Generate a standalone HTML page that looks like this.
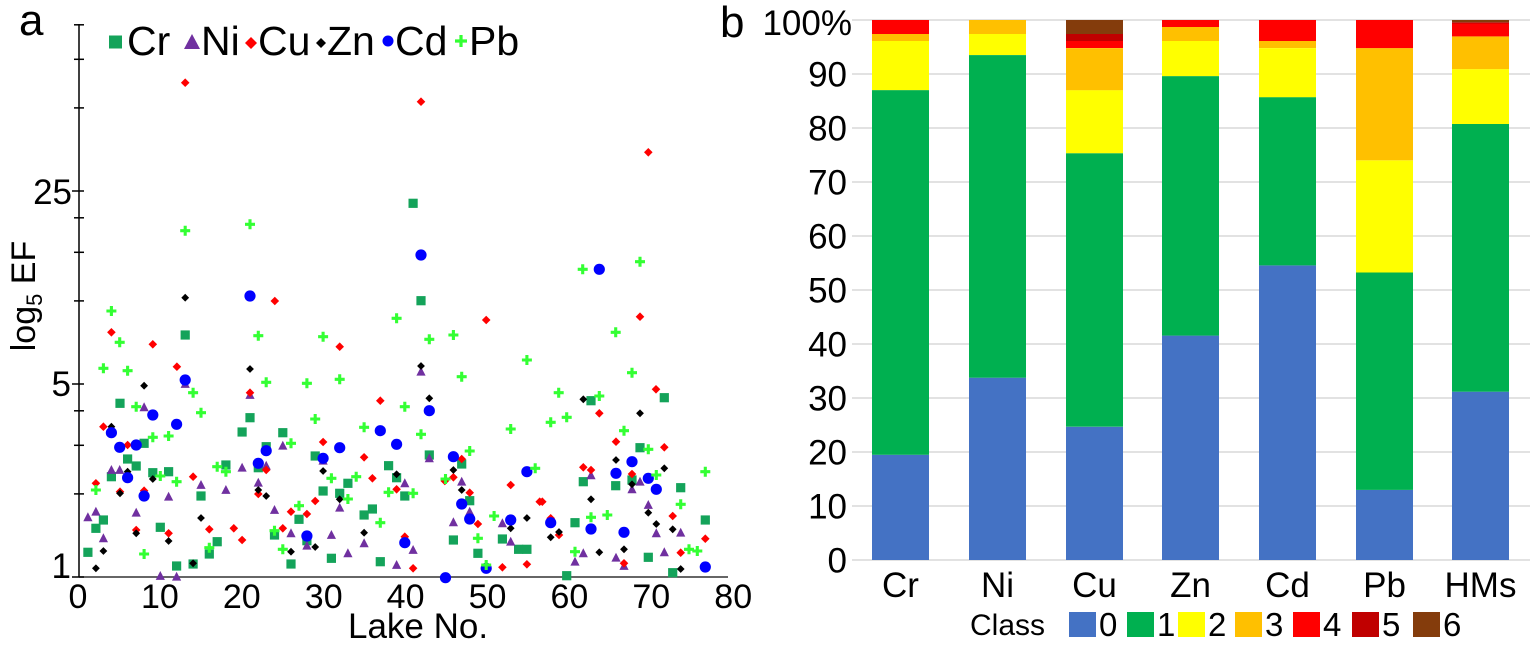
<!DOCTYPE html>
<html><head><meta charset="utf-8">
<style>
html,body{margin:0;padding:0;background:#fff;}
svg{display:block;font-family:"Liberation Sans",Arial,sans-serif;}
</style></head><body>
<svg id="s" width="1534" height="647" viewBox="0 0 1534 647" xmlns="http://www.w3.org/2000/svg">
<rect width="1534" height="647" fill="#fff"/>
<!-- Panel a -->
<text x="19" y="35" font-size="44" fill="#000">a</text>
<g id="axA" stroke="#000" stroke-width="1.5"></g>
<text transform="translate(35,296) rotate(-90)" text-anchor="middle" font-size="34" fill="#000">log<tspan font-size="22" dy="7">5</tspan><tspan dy="-7"> EF</tspan></text>
<g font-size="35" fill="#000" text-anchor="end">
<text x="72" y="204">25</text>
<text x="71" y="396">5</text>
<text x="71" y="578">1</text>
</g>
<g id="xlab" font-size="34" fill="#000" text-anchor="middle"></g>
<text x="348" y="638" font-size="35" fill="#000">Lake No.</text>
<g id="pts"></g>
<!-- legend a -->
<rect x="109" y="35.5" width="13" height="13" fill="#14A35A"/>
<polygon points="192,34 184,49 200,49" fill="#7030A0"/>
<polygon points="251,37 257,43 251,49 245,43" fill="#FF0000"/>
<polygon points="321,38 326,43 321,48 316,43" fill="#000"/>
<circle cx="388" cy="41" r="5.5" fill="#0000FF"/>
<path d="M455 41h12M461 35v12" stroke="#33FF33" stroke-width="3.2"/>
<g font-size="41" fill="#000">
<text x="127" y="55">Cr</text>
<text x="201" y="55">Ni</text>
<text x="258" y="55">Cu</text>
<text x="327" y="55">Zn</text>
<text x="395" y="55">Cd</text>
<text x="469" y="55">Pb</text>
</g>
<!-- Panel b -->
<text x="720" y="37" font-size="44" fill="#000">b</text>
<g id="grid"></g>
<g id="bars"></g>
<g id="ylabB" font-size="35" fill="#000" text-anchor="end"></g>
<g id="catB" font-size="35" fill="#000" text-anchor="middle"></g>
<text x="970" y="635" font-size="30" fill="#000">Class</text>
<g id="legB"></g>
</svg>
<script>
(function(){
function add(id,html){document.getElementById(id).insertAdjacentHTML('beforeend',html);}
const Y=v=>577-193*Math.log(v)/Math.log(5);
let ax='';
ax+='<line x1="79" y1="24" x2="79" y2="577.5"/>';
ax+='<line x1="79" y1="577" x2="728" y2="577" stroke="#333"/>';
[1,2,3,4,5,10,15,20,25,50,75,100].forEach(v=>{
  const y=Y(v).toFixed(1);
  const major=(v==1||v==5||v==25);
  ax+='<line x1="'+(major?72:74)+'" y1="'+y+'" x2="84" y2="'+y+'"/>';
});
add('axA',ax);
let xl='';
for(let v=0;v<=80;v+=10){xl+='<text x="'+(78+8.19*v).toFixed(1)+'" y="608">'+v+'</text>';}
add('xlab',xl);
const Z1=p=>[p[0]/2.9,p[1]/3];
const Z2=p=>[p[0]/2.9,320+p[1]/3];
const Z3=p=>[500+p[0]/3,320+p[1]/3];
const Z4=p=>[500+p[0]/3,p[1]/3];
function conv(d){let o=[];(d.z1||[]).forEach(p=>o.push(Z1(p)));(d.z2||[]).forEach(p=>o.push(Z2(p)));(d.z3||[]).forEach(p=>o.push(Z3(p)));(d.z4||[]).forEach(p=>o.push(Z4(p)));return o;}
const Cr={z1:[[1198,610],[1221,902]],
z2:[[255,697],[278,625],[300,600],[323,470],[348,250],[370,417],[395,438],[418,370],[443,458],[465,622],[489,455],[512,738],[537,45],[560,732],[583,528],[607,702],[630,665],[655,435],[702,336],[725,293],[749,443],[772,380],[796,645],[820,338],[844,732],[867,598],[890,662],[914,408],[937,513],[961,715],[985,520],[1009,490],[1056,585],[1080,567],[1103,725],[1127,437],[1150,473],[1174,528],[1245,405],[1315,660],[1339,432],[1362,542],[1386,700],[1457,657],[1504,688],[1528,688]],
z3:[[493,233],[273,242],[420,383],[250,485],[347,497],[396,480],[542,503],[225,608],[616,600],[445,712],[200,767],[518,758]]};
const Ni={z2:[[255,592],[278,575],[300,655],[323,450],[347,450],[395,578],[418,262],[465,768],[489,530],[512,770],[537,192],[583,495],[655,510],[702,443],[725,225],[749,488],[772,437],[796,570],[820,377],[844,640],[890,677],[937,422],[961,645],[985,563],[1009,700],[1056,670],[1150,735],[1174,490],[1198,690],[1221,155],[1245,415],[1315,607],[1339,485],[1362,575],[1457,610],[1481,665]],
z3:[[273,466],[420,485],[396,508],[445,555],[469,640],[542,638],[250,700],[225,725],[348,713],[372,738],[493,697]]};
const Cu={z1:[[537,248],[1221,305],[797,903]],
z2:[[323,37],[443,73],[513,140],[300,320],[370,375],[278,490],[348,515],[418,512],[395,630],[489,640],[560,470],[607,628],[678,625],[702,660],[725,218],[749,522],[772,450],[820,625],[844,575],[890,582],[914,543],[937,366],[985,80],[1056,412],[1080,475],[1103,242],[1150,508],[1174,650],[1198,745],[1290,483],[1315,472],[1339,417],[1362,518],[1386,612],[1410,0],[1457,742],[1481,495],[1528,733],[1565,545]],
z3:[[468,208],[298,280],[348,365],[493,382],[250,442],[273,450],[396,462],[127,545],[518,588],[152,595],[177,645],[372,730],[542,698],[616,656]],
z4:[[445,457],[420,950]]};
const Zn={z1:[[537,893]],
z2:[[278,745],[300,693],[323,320],[348,520],[370,455],[395,640],[418,197],[443,477],[489,663],[560,730],[583,594],[725,147],[749,510],[772,528],[844,695],[914,681],[937,453],[985,538],[1056,638],[1150,463],[1221,138],[1245,235],[1315,450],[1339,510],[1481,625],[1528,594]],
z3:[[250,238],[420,280],[348,420],[493,445],[396,493],[273,538],[445,578],[177,636],[152,652],[469,612],[518,628],[298,697],[372,688],[542,747]]};
const Cd={z1:[[1221,765],[725,888]],
z2:[[323,338],[347,382],[370,473],[395,375],[418,528],[443,285],[512,313],[537,180],[749,430],[772,392],[890,648],[937,415],[985,383],[1103,332],[1150,373],[1174,668],[1245,272],[1292,773],[1315,410],[1339,552],[1362,597],[1410,745],[1481,600],[1528,455]],
z3:[[396,425],[348,460],[445,475],[469,508],[152,608],[273,627],[372,637],[616,741]],
z4:[[298,808]]};
const Pb={z1:[[323,933],[537,692],[725,673],[1150,955]],
z2:[[278,510],[300,145],[347,67],[370,152],[395,260],[418,702],[443,352],[465,468],[489,348],[512,485],[560,218],[583,278],[607,683],[630,440],[655,455],[749,47],[772,187],[796,632],[820,688],[844,370],[867,557],[890,190],[914,297],[937,50],[961,475],[985,178],[1009,537],[1033,470],[1056,322],[1103,608],[1127,517],[1174,260],[1198,520],[1221,343],[1245,58],[1292,477],[1315,45],[1339,170],[1362,393],[1386,655],[1410,735],[1433,588],[1481,327],[1528,120],[1552,445]],
z3:[[347,37],[396,158],[176,218],[298,228],[152,307],[200,292],[372,332],[445,388],[469,465],[616,455],[542,553],[322,585],[273,592],[225,695],[567,688],[592,693]],
z4:[[248,808],[420,785]]};
const f=n=>n.toFixed(1);
let s='';
conv(Cr).forEach(([x,y])=>{s+='<rect x="'+f(x-4.6)+'" y="'+f(y-4.6)+'" width="9.2" height="9.2" fill="#14A35A"/>';});
conv(Ni).forEach(([x,y])=>{s+='<polygon points="'+f(x)+','+f(y-5)+' '+f(x-4.6)+','+f(y+3.9)+' '+f(x+4.6)+','+f(y+3.9)+'" fill="#7030A0"/>';});
conv(Cu).forEach(([x,y])=>{const r=4.3;s+='<polygon points="'+f(x)+','+f(y-r)+' '+f(x+r)+','+f(y)+' '+f(x)+','+f(y+r)+' '+f(x-r)+','+f(y)+'" fill="#FF0000"/>';});
conv(Zn).forEach(([x,y])=>{const r=3.9;s+='<polygon points="'+f(x)+','+f(y-r)+' '+f(x+r)+','+f(y)+' '+f(x)+','+f(y+r)+' '+f(x-r)+','+f(y)+'" fill="#000"/>';});
conv(Cd).forEach(([x,y])=>{s+='<circle cx="'+f(x)+'" cy="'+f(y)+'" r="5.6" fill="#0000FF"/>';});
conv(Pb).forEach(([x,y])=>{s+='<path d="M'+f(x-5)+' '+f(y)+'h10M'+f(x)+' '+f(y-5)+'v10" stroke="#33FF33" stroke-width="3.1"/>';});
add('pts',s);
let gr='';
for(let k=0;k<=10;k++){const y=20+54*k;gr+='<line x1="852" y1="'+y+'" x2="1530" y2="'+y+'" stroke="#d9d9d9" stroke-width="1.5"/>';}
add('grid',gr);
const cols=['#4472C4','#00B050','#FFFF00','#FFC000','#FF0000','#C00000','#843C0C'];
const data=[[15,52,7,1,2,0,0],[26,46,3,2,0,0,0],[19,39,9,6,1,1,2],[32,37,5,2,1,0,0],[42,24,7,1,3,0,0],[10,31,16,16,4,0,0],[144,229,47,28,11,1,2]];
const names=['Cr','Ni','Cu','Zn','Cd','Pb','HMs'];
const bx=[872,969,1066,1162,1259,1356,1452];
let b='',c='';
data.forEach((d,i)=>{
  const tot=d.reduce((a,v)=>a+v,0);let cum=0;
  d.forEach((v,j)=>{if(!v)return;const y0=560-cum/tot*540;cum+=v;const y1=560-cum/tot*540;
    b+='<rect x="'+bx[i]+'" y="'+f(y1)+'" width="57" height="'+f(y0-y1)+'" fill="'+cols[j]+'"/>';});
  c+='<text x="'+(bx[i]+28.5)+'" y="597">'+names[i]+'</text>';
});
add('bars',b);add('catB',c);
let yl='';
for(let k=0;k<=10;k++){const y=20+54*k;const v=100-10*k;
  if(v==100) yl+='<text x="852" y="35">100%</text>';
  else yl+='<text x="847" y="'+(y+12.5)+'">'+v+'</text>';}
add('ylabB',yl);
const lx=[1069,1127,1178,1235,1293,1352,1413];
let lg='';
lx.forEach((x,i)=>{lg+='<rect x="'+x+'" y="612" width="27" height="25" fill="'+cols[i]+'"/>';
  lg+='<text x="'+(x+30)+'" y="636" font-size="33" fill="#000">'+i+'</text>';});
add('legB',lg);
})();
</script>
</body></html>
